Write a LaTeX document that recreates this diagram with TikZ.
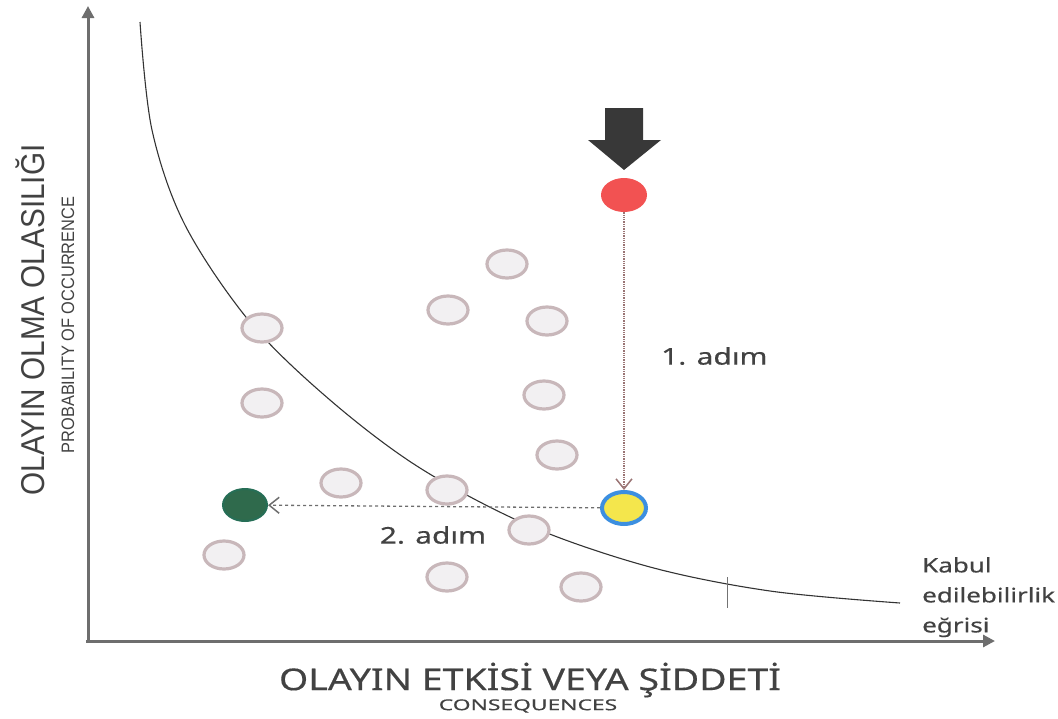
\documentclass[tikz,border=0pt]{standalone}
\usepackage{fontspec}
\setmainfont{Noto Sans}[FakeBold=0.4]
\newfontfamily\labelfont{Noto Sans}[FakeBold=0.35]
\newfontfamily\axisfont{Liberation Sans}
\usetikzlibrary{arrows.meta,shapes.geometric}
\definecolor{axisgray}{HTML}{6E6E6E}
\definecolor{ringgray}{HTML}{C8B7BA}
\definecolor{ringfill}{HTML}{F2F0F2}
\definecolor{textgray}{HTML}{424242}
\definecolor{riskred}{HTML}{F25252}
\definecolor{riskyellow}{HTML}{F4E64C}
\definecolor{riskblue}{HTML}{3C8FE0}
\definecolor{riskgreen}{HTML}{2F6A4C}
\definecolor{stepline}{HTML}{9A7474}
\tikzset{
  axisline/.style={draw=axisgray, line width=3pt, -{Triangle[length=12pt,width=12pt]}},
  event/.style={ellipse, draw=ringgray, line width=3.2pt, fill=ringfill,
                minimum width=40pt, minimum height=28pt, inner sep=0pt},
  start/.style={ellipse, fill=riskred, minimum width=46pt, minimum height=34pt, inner sep=0pt},
  middle/.style={ellipse, draw=riskblue, line width=4pt, fill=riskyellow,
                 minimum width=44pt, minimum height=32pt, inner sep=0pt},
  target/.style={ellipse, draw=riskgreen!80!teal, line width=2pt, fill=riskgreen,
                 minimum width=44pt, minimum height=32pt, inner sep=0pt},
  steparrow/.style={-{Straight Barb[length=10pt,width=16pt,line width=1.5pt]}, line width=1.3pt},
  label/.style={text=textgray, inner sep=0pt}
}
% horizontal labels are set a little wide
\newcommand{\wide}[2][1.3]{\scalebox{#1}[1]{#2}}
\begin{document}
\begin{tikzpicture}[x=1pt,y=-1pt]
\useasboundingbox (0,0) rectangle (1058,718);

% axes
\coordinate (ytop) at (88,6);
\coordinate (xend) at (995,641);
\draw[axisline] (88,643) -- (ytop);
\draw[axisline] (86,641) -- (xend);

% acceptability curve
\draw[line width=1.1pt, black!80] plot[smooth, tension=0.55] coordinates {
  (140,22) (152,130) (185,225) (250,322) (330,400) (420,468)
  (530,526) (650,567) (770,591) (900,603)};
\draw[black!55, line width=0.8pt] (727,577) -- (727,608);

% events
\foreach \n/\x/\y in {a/507/264, b/448/310, c/547/321, d/262/328, e/262/403,
  f/544/395, g/557/455, h/341/483, i/447/490, j/224/555, k/529/530,
  l/447/577, m/581/587}
  \node[event] (\n) at (\x,\y) {};

% risk positions
\node[start] (red) at (624,195) {};
\node[middle] (yel) at (624,508) {};
\node[target] (grn) at (245,505) {};

% downward block arrow
\fill[black!78] (605,108) -- (643,108) -- (643,140) -- (661,140) -- (624,170)
  -- (588,140) -- (605,140) -- cycle;

% steps
\draw[steparrow, stepline, densely dotted] (red) -- (yel);
\draw[steparrow, axisgray, dashed] (yel) -- (grn);
\node[label, anchor=west, font=\labelfont\fontsize{23}{24}\selectfont] (s1) at (661,356) {\wide{1. adım}};
\node[label, font=\labelfont\fontsize{23}{24}\selectfont] (s2) at (433,535) {\wide{2. adım}};

% curve caption
\node[label, anchor=north west, align=left, font=\labelfont\fontsize{20}{30}\selectfont] (cap) at (922,557)
  {\wide{Kabul}\\\wide{edilebilirlik}\\\wide{eğrisi}};

% axis titles
\node[label, rotate=90] (ylab) at (30,320)
  {\axisfont\scalebox{0.9}[1]{\fontsize{33}{33}\selectfont OLAYIN OLMA OLASILIĞI}};
\node[label, rotate=90] (ylab2) at (68,325)
  {\axisfont\scalebox{0.91}[1]{\fontsize{18}{18}\selectfont PROBABILITY OF OCCURRENCE}};
\node[label, font=\labelfont\fontsize{30}{32}\selectfont] (xlab) at (530,680)
  {\wide[1.25]{OLAYIN ETKİSİ VEYA ŞİDDETİ}};
\node[label, font=\labelfont\fontsize{15}{15}\selectfont] (xlab2) at (528,706)
  {\wide[1.52]{CONSEQUENCES}};
\end{tikzpicture}
\end{document}
